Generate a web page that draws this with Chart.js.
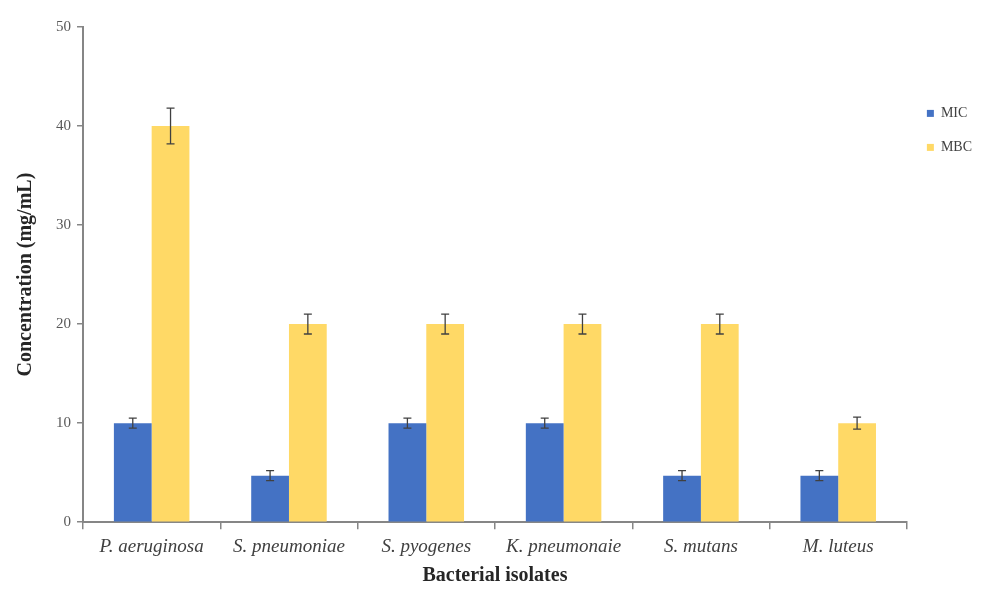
<!DOCTYPE html>
<html lang="en">
<head>
<meta charset="UTF-8">
<title>MIC / MBC</title>
<script src="https://cdn.jsdelivr.net/npm/chart.js"></script>
<style>
  html, body { margin: 0; padding: 0; background: #fff; }
  #wrap { width: 984px; height: 592px; position: relative; }
</style>
</head>
<body>
<div id="wrap"><canvas id="myChart"></canvas></div>
<script>
// data
const isolates = ['P. aeruginosa', 'S. pneumoniae', 'S. pyogenes', 'K. pneumonaie', 'S. mutans', 'M. luteus'];
const micValues = [10, 4.7, 10, 10, 4.7, 4.7];
const mbcValues = [40, 20, 20, 20, 20, 10];
const micErrors = [0.5, 0.5, 0.5, 0.5, 0.5, 0.5];
const mbcErrors = [1.8, 1, 1, 1, 1, 0.6];
const yTicks = [0, 10, 20, 30, 40, 50];

// draws the error bars through the chart's own scales
const errorBars = {
  id: 'errorBars',
  afterDatasetsDraw(chart) {
    const ctx = chart.ctx;
    const y = chart.scales.y;
    ctx.save();
    ctx.strokeStyle = '#404040';
    ctx.lineWidth = 1.3;
    chart.data.datasets.forEach((ds, i) => {
      const meta = chart.getDatasetMeta(i);
      meta.data.forEach((bar, j) => {
        const v = ds.data[j], e = ds.errors[j];
        const top = y.getPixelForValue(v + e);
        const bot = y.getPixelForValue(v - e);
        const x = bar.x;
        ctx.beginPath();
        ctx.moveTo(x, top); ctx.lineTo(x, bot);
        ctx.moveTo(x - 4, top); ctx.lineTo(x + 4, top);
        ctx.moveTo(x - 4, bot); ctx.lineTo(x + 4, bot);
        ctx.stroke();
      });
    });
    ctx.restore();
  }
};

new Chart(document.getElementById('myChart'), {
  type: 'bar',
  data: {
    labels: isolates,
    datasets: [
      { label: 'MIC', data: micValues, errors: micErrors, backgroundColor: '#4472C4',
        categoryPercentage: 0.55, barPercentage: 1.0 },
      { label: 'MBC', data: mbcValues, errors: mbcErrors, backgroundColor: '#FFD966',
        categoryPercentage: 0.55, barPercentage: 1.0 }
    ]
  },
  options: {
    responsive: true,
    maintainAspectRatio: false,
    animation: false,
    layout: { padding: { top: 27, right: 2, left: 10, bottom: 0 } },
    plugins: {
      tooltip: { enabled: false },
      legend: {
        position: 'right',
        align: 'start',
        title: { display: true, text: ' ', padding: { top: 25, bottom: 20 } },
        labels: {
          usePointStyle: true,
          pointStyle: 'rect',
          boxWidth: 7,
          boxHeight: 7,
          padding: 20,
          color: '#404040',
          font: { family: 'Liberation Serif', size: 14 }
        }
      }
    },
    scales: {
      x: {
        grid: { drawOnChartArea: false, offset: true, color: '#868686', tickLength: 7, lineWidth: 1.5 },
        border: { color: '#868686', width: 2 },
        ticks: { color: '#404040', padding: 6, maxRotation: 0, autoSkip: false,
                 font: { family: 'Liberation Serif', size: 19, style: 'italic' } },
        title: { display: true, text: 'Bacterial isolates', color: '#262626', padding: { top: 0 },
                 font: { family: 'Liberation Serif', size: 20, weight: 'bold' } }
      },
      y: {
        min: 0, max: 50,
        afterBuildTicks(axis) { axis.ticks = yTicks.map(v => ({ value: v })); },
        grid: { drawOnChartArea: false, color: '#868686', tickLength: 6, lineWidth: 1.5 },
        border: { color: '#868686', width: 2 },
        ticks: { color: '#595959', padding: 6, font: { family: 'Liberation Serif', size: 15 } },
        title: { display: true, text: 'Concentration (mg/mL)', color: '#262626', padding: { bottom: 12 },
                 font: { family: 'Liberation Serif', size: 20, weight: 'bold' } }
      }
    }
  },
  plugins: [errorBars]
});
</script>
</body>
</html>
